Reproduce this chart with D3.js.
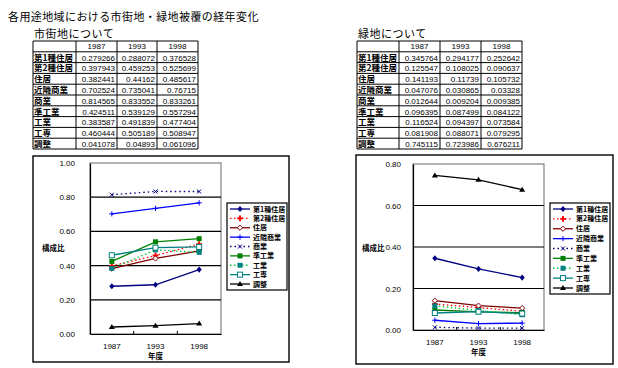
<!DOCTYPE html>
<html>
<head>
<meta charset="utf-8">
<script src="https://cdn.jsdelivr.net/npm/d3@7"></script>
<style>
  body { margin: 0; background: #fff; }
  svg { display: block; }
  text { font-family: "Liberation Sans", Arial, sans-serif; fill: #000; }
  .jp { font-family: "Noto Sans CJK JP", sans-serif; }
</style>
</head>
<body>
<svg width="618" height="368"></svg>
<script>
// ---- data ----
const years = ["1987", "1993", "1998"];
const zones = ["第1種住居", "第2種住居", "住居", "近隣商業", "商業", "準工業", "工業", "工専", "調整"];

// 市街地 share per zone, one value per year
const urbanValues = [
  [0.279266, 0.288072, 0.376528],
  [0.397943, 0.459253, 0.525699],
  [0.382441, 0.44162, 0.485617],
  [0.702524, 0.735041, 0.76715],
  [0.814565, 0.833552, 0.833261],
  [0.424511, 0.539129, 0.557294],
  [0.383587, 0.491839, 0.477404],
  [0.460444, 0.505189, 0.508947],
  [0.041078, 0.04893, 0.061096]
];

// 緑地 share per zone
const greenValues = [
  [0.345764, 0.294177, 0.252642],
  [0.125547, 0.108025, 0.090637],
  [0.141193, 0.11739, 0.105732],
  [0.047076, 0.030865, 0.03328],
  [0.012644, 0.009204, 0.009385],
  [0.096395, 0.087499, 0.084122],
  [0.116524, 0.094397, 0.073584],
  [0.081908, 0.088071, 0.079295],
  [0.745115, 0.723986, 0.676211]
];

const urbanTicks = [0, 0.2, 0.4, 0.6, 0.8, 1.0];
const greenTicks = [0, 0.2, 0.4, 0.6, 0.8];

// line/marker look for each zone (Excel style)
const styles = [
  { color: "#000080", dash: null,      marker: "diamond" },
  { color: "#ff0000", dash: "1.5,2.5", marker: "plus" },
  { color: "#800000", dash: null,      marker: "odiamond" },
  { color: "#0000ff", dash: null,      marker: "cross" },
  { color: "#000080", dash: "1.5,3",   marker: "x" },
  { color: "#008000", dash: null,      marker: "square" },
  { color: "#00cc33", dash: "1.5,2.5", marker: "tsquare" },
  { color: "#008080", dash: null,      marker: "osquare" },
  { color: "#000000", dash: null,      marker: "triangle" }
];

const svg = d3.select("svg");

// ---- title ----
svg.append("text").attr("class", "jp")
  .attr("x", 8).attr("y", 21)
  .attr("font-size", 11).attr("letter-spacing", 0.4)
  .text("各用途地域における市街地・緑地被覆の経年変化");

// ---- tables ----
function drawTable(x0, cols, caption, values) {
  const g = svg.append("g");
  const top = 41, rowH = 10.8;
  const xs = [x0].concat(cols);
  g.append("text").attr("class", "jp")
    .attr("x", x0 + 1).attr("y", 38)
    .attr("font-size", 11).attr("letter-spacing", 0.5)
    .text(caption);

  const nRows = zones.length + 1;
  for (let r = 0; r <= nRows; r++) {
    g.append("line")
      .attr("x1", xs[0]).attr("x2", xs[xs.length - 1])
      .attr("y1", top + r * rowH).attr("y2", top + r * rowH)
      .attr("stroke", "#000").attr("stroke-width", 1);
  }
  xs.forEach(x => {
    g.append("line")
      .attr("x1", x).attr("x2", x)
      .attr("y1", top).attr("y2", top + nRows * rowH)
      .attr("stroke", "#000").attr("stroke-width", 1);
  });
  years.forEach((y, i) => {
    g.append("text")
      .attr("x", (xs[i + 1] + xs[i + 2]) / 2).attr("y", top + rowH - 2.5)
      .attr("text-anchor", "middle").attr("font-size", 8)
      .text(y);
  });
  zones.forEach((z, r) => {
    const yb = top + (r + 2) * rowH - 2;
    g.append("text").attr("class", "jp")
      .attr("x", xs[0] + 1).attr("y", yb)
      .attr("font-size", 8.5).attr("font-weight", "bold")
      .text(z);
    values[r].forEach((v, i) => {
      g.append("text")
        .attr("x", xs[i + 2] - 2).attr("y", yb)
        .attr("text-anchor", "end").attr("font-size", 8)
        .text(String(v));
    });
  });
}

drawTable(33, [76, 117, 157, 198], "市街地について", urbanValues);
drawTable(357, [399, 440, 481, 522], "緑地について", greenValues);

// ---- markers ----
function marker(g, type, x, y, color) {
  const s = 2.6;
  switch (type) {
    case "diamond":
      g.append("path").attr("d", `M${x},${y - s - 0.5}L${x + s},${y}L${x},${y + s + 0.5}L${x - s},${y}Z`)
        .attr("fill", color);
      break;
    case "odiamond":
      g.append("path").attr("d", `M${x},${y - s}L${x + s},${y}L${x},${y + s}L${x - s},${y}Z`)
        .attr("fill", "#fff").attr("stroke", color).attr("stroke-width", 1);
      break;
    case "plus":
      g.append("path").attr("d", d3.symbol(d3.symbolCross, 18)())
        .attr("transform", `translate(${x},${y})`).attr("fill", color);
      break;
    case "cross":
      g.append("path").attr("d", `M${x - s},${y}H${x + s}M${x},${y - s}V${y + s}`)
        .attr("stroke", color).attr("stroke-width", 1);
      break;
    case "x":
      g.append("path").attr("d", `M${x - 2},${y - 2}L${x + 2},${y + 2}M${x - 2},${y + 2}L${x + 2},${y - 2}`)
        .attr("stroke", color).attr("stroke-width", 1);
      break;
    case "square":
      g.append("rect").attr("x", x - 2.5).attr("y", y - 2.5).attr("width", 5).attr("height", 5)
        .attr("fill", color);
      break;
    case "tsquare":
      g.append("rect").attr("x", x - 2.5).attr("y", y - 2.5).attr("width", 5).attr("height", 5)
        .attr("fill", "#008080");
      break;
    case "osquare":
      g.append("rect").attr("x", x - 2.5).attr("y", y - 2.5).attr("width", 5).attr("height", 5)
        .attr("fill", "#fff").attr("stroke", color).attr("stroke-width", 1);
      break;
    case "triangle":
      g.append("path").attr("d", `M${x},${y - 3}L${x + 3},${y + 2}L${x - 3},${y + 2}Z`)
        .attr("fill", color);
      break;
  }
}

// ---- charts ----
function drawChart(opt, values, ticks) {
  const g = svg.append("g");
  const f = opt.frame, p = opt.plot, lg = opt.legend;

  g.append("rect")
    .attr("x", f[0]).attr("y", f[1]).attr("width", f[2] - f[0]).attr("height", f[3] - f[1])
    .attr("fill", "#fff").attr("stroke", "#000").attr("stroke-width", 1.4);

  const x = d3.scaleBand().domain(years).range([p[0], p[2]]).padding(0);
  const y = d3.scaleLinear().domain([0, d3.max(ticks)]).range([p[3], p[1]]);

  // plot area border (grey)
  g.append("rect")
    .attr("x", p[0]).attr("y", p[1]).attr("width", p[2] - p[0]).attr("height", p[3] - p[1])
    .attr("fill", "none").attr("stroke", "#808080").attr("stroke-width", 1.2);

  g.selectAll(".grid").data(ticks.slice(1, -1)).enter().append("line")
    .attr("x1", p[0]).attr("x2", p[2])
    .attr("y1", d => y(d)).attr("y2", d => y(d))
    .attr("stroke", "#000").attr("stroke-width", 1.2);

  const yAxis = g.append("g").attr("transform", `translate(${p[0]},0)`)
    .call(d3.axisLeft(y).tickValues(ticks).tickFormat(d3.format(".2f")).tickSize(0).tickPadding(opt.tickPad));
  yAxis.select(".domain").attr("stroke", "#000").attr("stroke-width", 1.2);
  yAxis.selectAll("text").attr("font-size", 8).attr("font-family", "Liberation Sans, Arial, sans-serif");

  const xAxis = g.append("g").attr("transform", `translate(0,${p[3]})`)
    .call(d3.axisBottom(x).tickSize(0).tickPadding(opt.xPad));
  xAxis.select(".domain").attr("stroke", "#000").attr("stroke-width", 1.2);
  xAxis.selectAll("text").attr("font-size", 8).attr("font-family", "Liberation Sans, Arial, sans-serif");
  years.slice(1).forEach(yr => {
    g.append("line").attr("x1", x(yr)).attr("x2", x(yr))
      .attr("y1", p[3]).attr("y2", p[3] - 3)
      .attr("stroke", "#000").attr("stroke-width", 1);
  });

  g.append("text").attr("class", "jp")
    .attr("x", opt.yTitle[0]).attr("y", opt.yTitle[1])
    .attr("font-size", 7.5).attr("font-weight", "bold")
    .text("構成比");
  g.append("text").attr("class", "jp")
    .attr("x", (p[0] + p[2]) / 2).attr("y", opt.xTitleY)
    .attr("text-anchor", "middle").attr("font-size", 7.5).attr("font-weight", "bold")
    .text("年度");

  const line = d3.line().x((d, i) => x(years[i]) + x.bandwidth() / 2).y(d => y(d));
  values.forEach((vals, k) => {
    const st = styles[k];
    g.append("path").datum(vals)
      .attr("d", line)
      .attr("fill", "none").attr("stroke", st.color).attr("stroke-width", 1.3)
      .attr("stroke-dasharray", st.dash);
    vals.forEach((v, i) => marker(g, st.marker, x(years[i]) + x.bandwidth() / 2, y(v), st.color));
  });

  // legend
  g.append("rect")
    .attr("x", lg[0]).attr("y", lg[1]).attr("width", lg[2] - lg[0]).attr("height", lg[3] - lg[1])
    .attr("fill", "#fff").attr("stroke", "#000").attr("stroke-width", 1.2);
  const step = (lg[3] - lg[1] - 12) / (zones.length - 1);
  zones.forEach((z, k) => {
    const st = styles[k];
    const cy = lg[1] + 6 + step * k;
    g.append("line")
      .attr("x1", lg[0] + 3).attr("x2", lg[0] + 23).attr("y1", cy).attr("y2", cy)
      .attr("stroke", st.color).attr("stroke-width", 1.3).attr("stroke-dasharray", st.dash);
    marker(g, st.marker, lg[0] + 13, cy, st.color);
    g.append("text").attr("class", "jp")
      .attr("x", lg[0] + 26).attr("y", cy + 2.5)
      .attr("font-size", 7).attr("font-weight", "bold")
      .text(z);
  });
}

drawChart({
  frame: [33, 156, 289, 362],
  plot: [90, 163, 221, 334],
  legend: [227, 203, 287, 290],
  tickPad: 15,
  xPad: 9,
  yTitle: [42, 251],
  xTitleY: 359
}, urbanValues, urbanTicks);

drawChart({
  frame: [356, 155, 613, 364],
  plot: [413, 164, 544, 330],
  legend: [550, 203, 610, 294],
  tickPad: 12,
  xPad: 9,
  yTitle: [362, 251],
  xTitleY: 355
}, greenValues, greenTicks);
</script>
</body>
</html>
